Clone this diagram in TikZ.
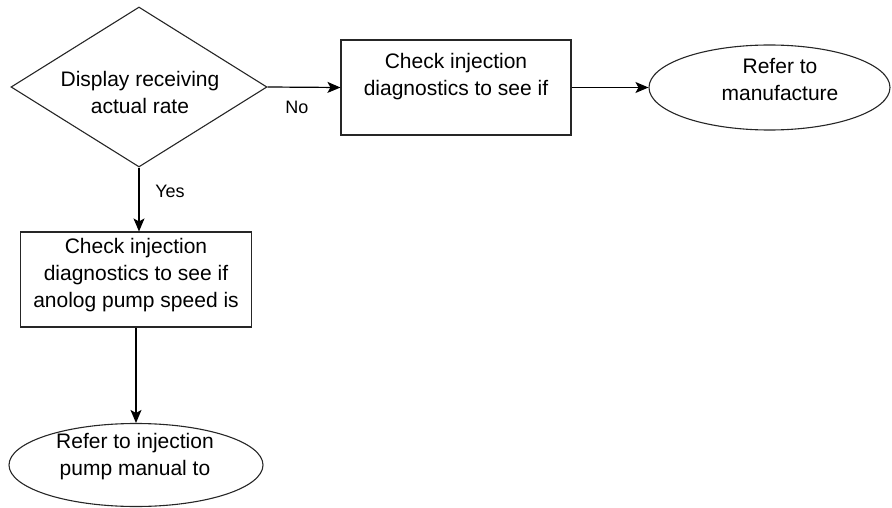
\documentclass[tikz,border=0pt]{standalone}
\usepackage{fontspec}
\setmainfont{Liberation Sans}
\usetikzlibrary{shapes.geometric,arrows.meta}
\begin{document}
\begin{tikzpicture}[x=1pt,y=-1pt,
  txt/.style={font=\fontsize{21}{27}\selectfont, text=black, align=center, inner sep=0pt},
  box/.style={draw=black!85, line width=1.1pt, rectangle, inner sep=0pt},
  oval/.style={draw=black!85, ellipse, line width=1.1pt, inner sep=0pt},
  decision/.style={draw=black!85, diamond, aspect=1.6, line width=1.1pt, inner sep=0pt},
  conn/.style={draw=black, line width=1.2pt, -{Stealth[length=13pt,width=11pt,inset=3pt]}},
  lbl/.style={font=\fontsize{18}{22}\selectfont, text=black}]
\useasboundingbox (0,0) rectangle (892,508);
\node[decision, minimum width=256pt, minimum height=160pt] (d) at (139,87) {};
\node[box, minimum width=230pt, minimum height=95pt] (b1) at (456,87.5) {};
\node[oval, minimum width=241pt, minimum height=85pt] (e1) at (769.5,87.5) {};
\node[box, minimum width=231pt, minimum height=95pt] (b2) at (136,279.5) {};
\node[oval, minimum width=254pt, minimum height=83pt] (e2) at (136,465) {};
\node[txt] (dt) at (140,92.5) {Display receiving\\actual rate};
\node[txt] (b1t) at (456,76.5) {Check injection\\diagnostics to see if};
\node[txt] (e1t) at (780,79.5) {Refer to\\manufacture};
\node[txt] (b2t) at (136,275) {Check injection\\diagnostics to see if\\anolog pump speed is};
\node[txt] (e2t) at (135,456.5) {Refer to injection\\pump manual to};
\node[lbl] (no) at (297,107) {No};
\node[lbl] (yes) at (170,191) {Yes};
\draw[conn] (d.east) -- (b1.west);
\draw[conn] (b1.east) -- (e1.west);
\draw[conn] (d.south) -- (d.south |- b2.north);
\draw[conn] (b2.south) -- (e2.north);
\end{tikzpicture}
\end{document}
